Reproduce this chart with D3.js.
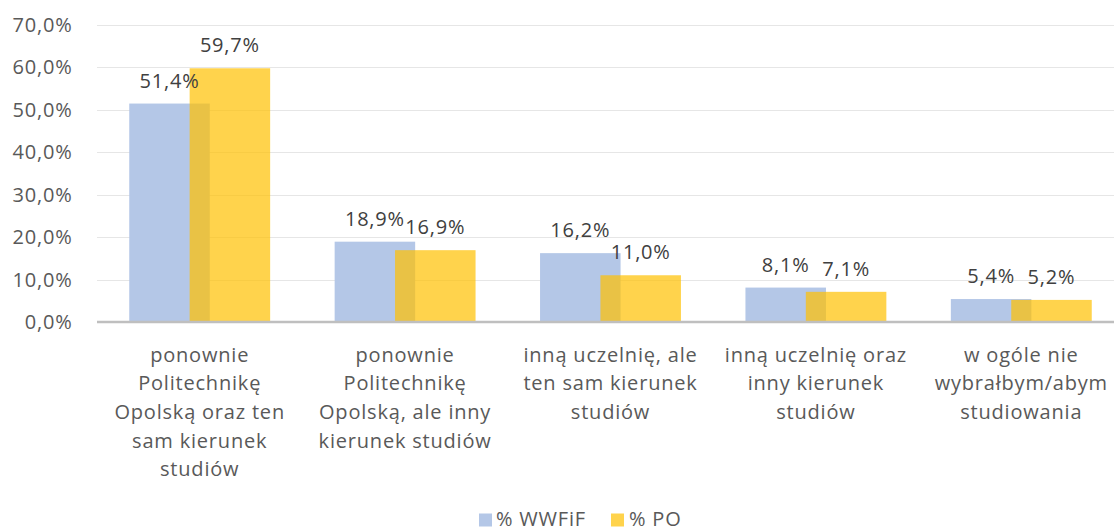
<!DOCTYPE html>
<html><head><meta charset="utf-8">
<script src="https://cdn.jsdelivr.net/npm/d3@7"></script>
<style>html,body{margin:0;padding:0;background:#fff;overflow:hidden;}svg{display:block;}</style>
</head><body>
<svg id="c" width="1114" height="531"></svg>
<script>
const categories = [
  ["ponownie","Politechnikę","Opolską oraz ten","sam kierunek","studiów"],
  ["ponownie","Politechnikę","Opolską, ale inny","kierunek studiów"],
  ["inną uczelnię, ale","ten sam kierunek","studiów"],
  ["inną uczelnię oraz","inny kierunek","studiów"],
  ["w ogóle nie","wybrałbym/abym","studiowania"]
];
const seriesNames = ["% WWFiF", "% PO"];
const wwfif = [0.514, 0.189, 0.162, 0.081, 0.054];
const po = [0.597, 0.169, 0.110, 0.071, 0.052];
const yTicks = [0, 0.1, 0.2, 0.3, 0.4, 0.5, 0.6, 0.7];

const FONT = "'Open Sans', sans-serif";
const FS = 20, LS = 0.8;
const svg = d3.select("#c");
const W = 1114;
const keys = categories.map((c, i) => "c" + i);
const x = d3.scaleBand().domain(keys).range([97, 1124]);
const y = d3.scaleLinear().domain([0, 0.7]).range([322, 24.5]);
const barW = x.bandwidth() * 0.392;
const step = barW * 0.75;
const colors = ["#B4C7E7", "#FFC000"];
const opac = [1, 0.7];

// gridlines
svg.append("g").selectAll("line").data(yTicks.slice(1)).join("line")
  .attr("x1", 97).attr("x2", W).attr("y1", d => Math.round(y(d)) + 0.5).attr("y2", d => Math.round(y(d)) + 0.5)
  .attr("stroke", "#E6E6E6").attr("stroke-width", 1);

// y tick labels
const fmt = d => (d * 100).toFixed(1).replace(".", ",") + "%";
svg.append("g").selectAll("text").data(yTicks).join("text")
  .attr("x", 72.5).attr("y", d => y(d) + 7.3)
  .attr("text-anchor", "end").attr("font-family", FONT).attr("font-size", FS)
  .attr("letter-spacing", LS)
  .attr("fill", "#595959").text(fmt);

const series = [wwfif, po];
series.forEach((vals, s) => {
  const off = -step / 2 - barW / 2 + s * step;
  svg.append("g").selectAll("rect").data(vals).join("rect")
    .attr("x", (d, i) => x(keys[i]) + x.bandwidth() / 2 + off)
    .attr("width", barW)
    .attr("y", d => y(d)).attr("height", d => y(0) - y(d))
    .attr("fill", colors[s]).attr("fill-opacity", opac[s]);
});
series.forEach((vals, s) => {
  const off = -step / 2 + s * step;
  svg.append("g").selectAll("text").data(vals).join("text")
    .attr("x", (d, i) => x(keys[i]) + x.bandwidth() / 2 + off)
    .attr("y", d => y(d) - 16)
    .attr("text-anchor", "middle").attr("font-family", FONT).attr("font-size", FS)
    .attr("letter-spacing", LS)
    .attr("fill", "#404040").text(fmt);
});

// axis line
svg.append("line").attr("x1", 97).attr("x2", W).attr("y1", 322).attr("y2", 322)
  .attr("stroke", "#BFBFBF").attr("stroke-width", 2.5);

// category labels
const cg = svg.append("g").selectAll("text").data(categories).join("text")
  .attr("text-anchor", "middle").attr("font-family", FONT).attr("font-size", FS)
  .attr("letter-spacing", LS).attr("fill", "#595959");
cg.each(function(lines, i) {
  const t = d3.select(this);
  lines.forEach((l, j) => {
    t.append("tspan").attr("x", x(keys[i]) + x.bandwidth() / 2).attr("y", 361.5 + j * 28.7).text(l);
  });
});

// legend
const leg = [{n: seriesNames[0], c: colors[0], o: 1, x: 479, tx: 496}, {n: seriesNames[1], c: colors[1], o: 0.7, x: 611, tx: 629}];
const lg = svg.append("g");
leg.forEach(d => {
  lg.append("rect").attr("x", d.x).attr("y", 513.5).attr("width", 13).attr("height", 13).attr("fill", d.c).attr("fill-opacity", d.o);
  lg.append("text").attr("x", d.tx).attr("y", 525.5).attr("font-family", FONT).attr("font-size", FS)
    .attr("letter-spacing", LS).attr("fill", "#595959").text(d.n);
});
</script>
</body></html>
